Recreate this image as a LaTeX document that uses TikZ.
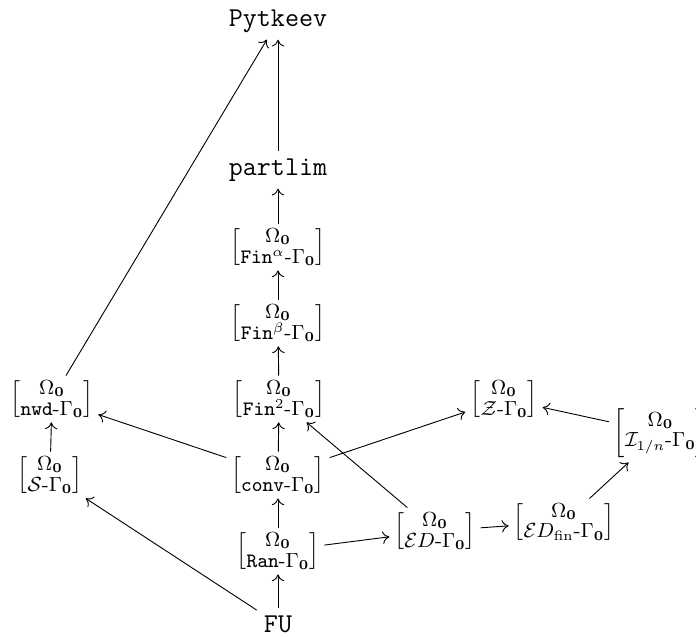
\documentclass[tikz,border=0pt]{standalone}
\usepackage{amsmath}
\usepackage{mathtools}
\usetikzlibrary{arrows.meta}
\newcommand{\Oz}{\Omega_{\mathbf{0}}}
\newcommand{\Gz}{\Gamma_{\mathbf{0}}}
\newcommand{\sel}[1]{$\left[\vcenter{\baselineskip=9pt\lineskiplimit=-20pt\lineskip=0pt\halign{\hfil$##$\hfil\cr\Oz\cr \cramped{#1\text{-}\Gz}\cr}}\right]$}
\begin{document}
\begin{tikzpicture}[x=0.4405pt,y=-0.4405pt,
  mat/.style={inner sep=2pt,font=\fontsize{9}{11}\selectfont},
  lab/.style={inner sep=3pt,font=\large\ttfamily},
  arr/.style={-{Computer Modern Rightarrow[length=3pt,width=5.5pt]},line width=0.4pt}]
\clip (0,0) rectangle (696,637);
\node[lab] (P) at (278,21) {Pytkeev};
\node[lab] (pl) at (278,170) {partlim};
\node[mat] (fa) at (278,247) {\sel{\mathtt{Fin}^{\alpha}}};
\node[mat] (fb) at (278,323) {\sel{\mathtt{Fin}^{\beta}}};
\node[mat] (f2) at (279,399) {\sel{\mathtt{Fin}^{2}}};
\node[mat] (cv) at (278,475) {\sel{\mathtt{conv}}};
\node[mat] (rn) at (278,551) {\sel{\mathtt{Ran}}};
\node[lab] (fu) at (278,624) {FU};
\node[mat] (nwd) at (52,399) {\sel{\mathtt{nwd}}};
\node[mat] (S) at (50,475) {\sel{\mathcal{S}}};
\node[mat] (Z) at (504,399) {\sel{\mathcal{Z}}};
\node[mat] (ED) at (435,531) {\sel{\mathcal{E}D}};
\node[mat] (EDf) at (564,522) {\sel{\mathcal{E}D_{\mathrm{fin}}}};
\node[mat,anchor=west] (I) at (609,433) {\sel{\mathcal{I}_{1/n}}};
\draw[arr] (pl) -- (P);
\draw[arr] (nwd) -- (P);
\draw[arr] (fa) -- (pl);
\draw[arr] (fb) -- (fa);
\draw[arr] (f2) -- (fb);
\draw[arr] (cv) -- (f2);
\draw[arr] (rn) -- (cv);
\draw[arr] (fu) -- (rn);
\draw[arr] (cv) -- (nwd);
\draw[arr] (S) -- (nwd);
\draw[arr] (fu) -- (S);
\draw[arr] (rn) -- (ED);
\draw[arr] (ED) -- (f2);
\draw[arr] (cv) -- (Z);
\draw[arr] (ED) -- (EDf);
\draw[arr] (EDf) -- (I);
\draw[arr] (I) -- (Z);
\end{tikzpicture}
\end{document}
